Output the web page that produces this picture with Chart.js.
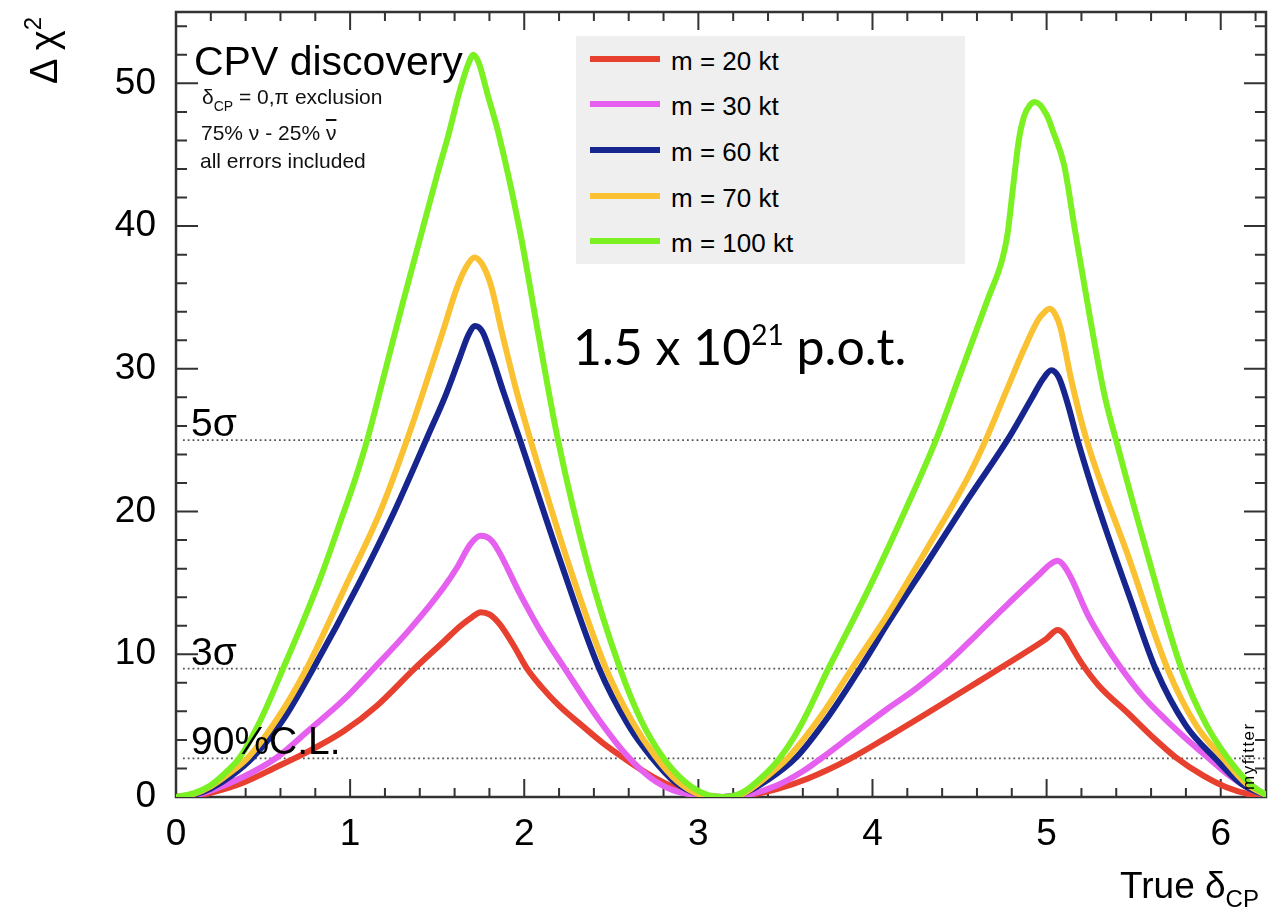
<!DOCTYPE html>
<html>
<head>
<meta charset="utf-8">
<script src="https://cdn.jsdelivr.net/npm/chart.js@4.4.0/dist/chart.umd.min.js"></script>
<style>
html, body { margin: 0; padding: 0; background: #fff; }
#wrap { position: relative; width: 1269px; height: 917px; font-family: "Liberation Sans", Arial, sans-serif; color: #000; }
#c { position: absolute; left: 0; top: 0; }
.t { position: absolute; white-space: nowrap; line-height: 1; }
.rot { transform: rotate(-90deg); transform-origin: left top; }
#legend { position: absolute; left: 576px; top: 36px; width: 389px; height: 228px; background: #efefef; }
</style>
</head>
<body>
<div id="wrap">
  <canvas id="c" width="1269" height="917"></canvas>

  <div class="t" style="left:194px;top:41px;font-size:41px;">CPV discovery</div>
  <div class="t" style="left:202px;top:86px;font-size:21px;color:#111;">&delta;<span style="font-size:14px;position:relative;top:7px;">CP</span> = 0,&pi; exclusion</div>
  <div class="t" style="left:201px;top:122px;font-size:21px;color:#111;">75% &nu; - 25% <span style="text-decoration:overline;">&nu;</span></div>
  <div class="t" style="left:200px;top:150px;font-size:21px;color:#111;">all errors included</div>

  <div id="legend"></div>

  <div class="t" style="left:573px;top:321px;font-size:50px;font-family:Lato,'Open Sans',sans-serif;">1.5 x 10<span style="font-size:28px;position:relative;top:-20px;">21</span> p.o.t.</div>

  <div class="t rot" style="left:25px;top:84px;font-size:38px;">&Delta; &chi;<span style="font-size:24px;position:relative;top:-16px;">2</span></div>
  <div class="t" style="left:1120px;top:867px;font-size:37px;">True &delta;<span style="font-size:24px;position:relative;top:9px;">CP</span></div>
  <div class="t rot" style="left:1240px;top:790px;font-size:17px;letter-spacing:1.5px;">myfitter</div>
</div>

<script>
// axis ticks
const xTicks = [0, 1, 2, 3, 4, 5, 6];
const yTicks = [0, 10, 20, 30, 40, 50];

// legend
const seriesLabels = ['m = 20 kt', 'm = 30 kt', 'm = 60 kt', 'm = 70 kt', 'm = 100 kt'];
const seriesColors = ['#e8402f', '#e660f0', '#16268e', '#fac232', '#7bf022'];

// [true deltaCP, delta chi2]
const m20 = [[0,0],[0.1,0.08],[0.2,0.3],[0.385,1.0],[0.577,2.1],[0.769,3.25],[0.962,4.6],[1.154,6.4],[1.37,9.0],[1.538,10.9],[1.635,12.0],[1.7,12.6],[1.75,12.95],[1.80,12.8],[1.86,12.1],[1.94,10.6],[2.016,9.0],[2.1,7.7],[2.2,6.4],[2.332,5.0],[2.45,3.8],[2.57,2.75],[2.70,1.7],[2.83,0.85],[2.95,0.3],[3.05,0.06],[3.14,0],
  [3.3,0.15],[3.45,0.55],[3.63,1.3],[3.859,2.6],[4.1,4.3],[4.318,5.9],[4.53,7.5],[4.73,9.0],[4.9,10.3],[5.0,11.1],[5.063,11.7],[5.1,11.4],[5.15,10.4],[5.2,9.4],[5.3,7.8],[5.465,5.9],[5.6,4.3],[5.74,2.8],[5.9,1.5],[6.04,0.65],[6.18,0.15],[6.2832,0]];
const m30 = [[0,0],[0.1,0.1],[0.2,0.45],[0.385,1.4],[0.577,2.75],[0.769,4.75],[0.962,6.8],[1.135,9.0],[1.346,11.8],[1.538,14.7],[1.615,16.1],[1.69,17.7],[1.75,18.3],[1.80,18.1],[1.84,17.5],[1.977,14.2],[2.1,11.5],[2.233,9.0],[2.43,5.4],[2.59,2.9],[2.72,1.4],[2.85,0.5],[3.0,0.1],[3.14,0],
  [3.3,0.2],[3.45,0.8],[3.6,1.8],[3.71,2.75],[3.9,4.5],[4.088,6.2],[4.25,7.6],[4.421,9.3],[4.6,11.4],[4.776,13.5],[4.95,15.5],[5.02,16.3],[5.063,16.55],[5.1,16.2],[5.143,15.3],[5.235,12.8],[5.33,10.8],[5.418,9.2],[5.55,7.1],[5.694,5.3],[5.8,4.1],[5.923,2.8],[6.05,1.5],[6.18,0.5],[6.2832,0]];
const m60 = [[0,0],[0.1,0.15],[0.2,0.6],[0.32,1.5],[0.44,2.75],[0.615,5.4],[0.788,9.0],[1.048,14.9],[1.25,19.9],[1.45,25.4],[1.55,28.2],[1.63,30.8],[1.68,32.4],[1.718,33.0],[1.76,32.6],[1.81,31.0],[1.88,28.4],[1.97,25.2],[2.2,16.8],[2.43,9.0],[2.6,5.0],[2.73,2.8],[2.87,1.0],[3.0,0.2],[3.14,0],
  [3.25,0.2],[3.40,1.2],[3.56,2.75],[3.75,5.7],[3.928,9.0],[4.1,12.4],[4.318,16.5],[4.55,20.9],[4.79,25.3],[4.913,27.9],[4.98,29.3],[5.027,29.9],[5.07,29.4],[5.12,27.6],[5.178,25.0],[5.26,21.7],[5.35,18.4],[5.48,13.9],[5.625,9.0],[5.80,5.0],[5.969,2.7],[6.12,0.9],[6.2832,0]];
const m70 = [[0,0],[0.1,0.2],[0.2,0.75],[0.3,1.6],[0.413,2.75],[0.577,5.4],[0.75,9.0],[0.971,14.7],[1.173,20.0],[1.346,25.7],[1.527,32.4],[1.62,35.9],[1.68,37.4],[1.714,37.8],[1.76,37.3],[1.81,35.8],[1.871,32.6],[1.95,28.7],[2.036,25.0],[2.25,16.5],[2.47,9.0],[2.62,5.3],[2.75,2.9],[2.88,1.1],[3.0,0.2],[3.14,0],
  [3.25,0.2],[3.40,1.5],[3.515,2.75],[3.7,5.6],[3.882,9.0],[4.088,12.8],[4.318,17.5],[4.548,22.4],[4.65,25.0],[4.767,28.4],[4.871,31.4],[4.95,33.4],[4.99,34.0],[5.017,34.2],[5.05,33.8],[5.079,32.9],[5.142,29.2],[5.23,25.0],[5.465,17.0],[5.694,9.0],[5.86,5.0],[6.015,2.7],[6.15,0.9],[6.2832,0]];
const m100 = [[0,0],[0.1,0.25],[0.19,0.75],[0.28,1.65],[0.365,2.75],[0.49,5.5],[0.615,9.0],[0.73,12.3],[0.837,15.6],[0.95,19.5],[1.03,22.3],[1.107,25.4],[1.2,29.8],[1.3,34.5],[1.412,39.6],[1.5,43.6],[1.565,46.4],[1.63,49.5],[1.68,51.4],[1.708,52.0],[1.74,51.4],[1.79,49.2],[1.852,46.5],[1.976,39.6],[2.08,32.5],[2.194,25.0],[2.37,16.0],[2.55,9.0],[2.67,5.4],[2.79,2.9],[2.92,1.1],[3.04,0.2],[3.14,0],
  [3.25,0.3],[3.40,1.8],[3.469,2.75],[3.55,4.2],[3.63,6.0],[3.70,7.8],[3.755,9.2],[3.81,10.5],[3.995,15.0],[4.2,20.4],[4.364,25.0],[4.497,29.4],[4.663,34.9],[4.746,37.7],[4.775,39.4],[4.808,42.8],[4.84,46.0],[4.871,47.7],[4.905,48.5],[4.934,48.7],[5.0,47.8],[5.038,46.6],[5.1,44.3],[5.163,39.7],[5.246,33.8],[5.33,28.3],[5.41,24.5],[5.579,17.0],[5.774,9.0],[5.92,5.0],[6.061,2.4],[6.18,0.8],[6.2832,0]];
const seriesData = [m20, m30, m60, m70, m100];
const drawOrder = [4, 3, 2, 1, 0];   // lower = drawn on top

// reference lines
const refLevels = [25, 9, 2.71];
const refLabels = ['5\u03c3', '3\u03c3', '90%C.L.'];

const xMax = 6.26, yMax = 55;

// legend box
const leg = document.getElementById('legend');
seriesLabels.forEach(function (lab, i) {
  const cy = 22.7 + i * 45.6;
  const line = document.createElement('div');
  line.style.cssText = 'position:absolute;left:14px;width:70px;height:6px;top:' + (cy - 3) + 'px;background:' + seriesColors[i];
  leg.appendChild(line);
  const txt = document.createElement('div');
  txt.className = 't';
  txt.style.cssText = 'left:95px;font-size:26px;top:' + (cy - 11) + 'px';
  txt.textContent = lab;
  leg.appendChild(txt);
});

const rootFrame = {
  id: 'rootFrame',
  beforeDatasetsDraw(chart) {
    const ctx = chart.ctx, a = chart.chartArea, x = chart.scales.x, y = chart.scales.y;
    ctx.save();
    ctx.strokeStyle = '#333';
    ctx.lineWidth = 2;
    ctx.beginPath();
    for (let i = 0; i * 0.2 <= xMax; i++) {
      const px = x.getPixelForValue(i * 0.2);
      const len = (i % 5 === 0) ? 18 : 9;
      ctx.moveTo(px, a.bottom); ctx.lineTo(px, a.bottom - len);
      ctx.moveTo(px, a.top); ctx.lineTo(px, a.top + len);
    }
    for (let v = 0; v <= yMax; v += 2) {
      const py = y.getPixelForValue(v);
      const len = (v % 10 === 0) ? 22 : 11;
      ctx.moveTo(a.left, py); ctx.lineTo(a.left + len, py);
      ctx.moveTo(a.right, py); ctx.lineTo(a.right - len, py);
    }
    ctx.stroke();
    ctx.lineWidth = 2.5;
    ctx.strokeRect(a.left, a.top, a.right - a.left, a.bottom - a.top);
    ctx.restore();
  },
  afterDatasetsDraw(chart) {
    const ctx = chart.ctx, a = chart.chartArea, y = chart.scales.y;
    ctx.save();
    ctx.fillStyle = '#000';
    ctx.font = '39px "Liberation Sans", Arial, sans-serif';
    ctx.textBaseline = 'alphabetic';
    refLevels.forEach(function (lv, i) {
      ctx.fillText(refLabels[i], a.left + 15, y.getPixelForValue(lv) - 4);
    });
    ctx.restore();
  }
};

const datasets = seriesData.map(function (arr, i) {
  return {
    label: seriesLabels[i],
    data: arr.map(function (p) { return { x: p[0], y: p[1] }; }),
    borderColor: seriesColors[i],
    borderWidth: 6,
    pointRadius: 0,
    fill: false,
    cubicInterpolationMode: 'monotone',
    order: drawOrder[i]
  };
});
refLevels.forEach(function (lv) {
  datasets.push({
    data: [{ x: 0.04, y: lv }, { x: xMax, y: lv }],
    borderColor: '#555',
    borderWidth: 1.8,
    borderDash: [1.8, 3],
    pointRadius: 0,
    fill: false,
    order: 10
  });
});

function noPad(s) { s.paddingTop = 0; s.paddingBottom = 0; s.paddingLeft = 0; s.paddingRight = 0; }

Chart.defaults.font.family = '"Liberation Sans", Arial, sans-serif';
new Chart(document.getElementById('c'), {
  type: 'line',
  data: { datasets: datasets },
  options: {
    responsive: false,
    animation: false,
    layout: { padding: { left: 0, top: 12, right: 3, bottom: 0 } },
    plugins: { legend: { display: false }, tooltip: { enabled: false } },
    scales: {
      x: {
        type: 'linear', min: 0, max: xMax,
        afterBuildTicks: function (s) { s.ticks = xTicks.map(function (v) { return { value: v }; }); },
        afterFit: function (s) { s.height = 120; noPad(s); },
        grid: { display: false }, border: { display: false },
        ticks: { color: '#000', font: { size: 37 }, padding: 8, maxRotation: 0 }
      },
      y: {
        type: 'linear', min: 0, max: yMax,
        afterBuildTicks: function (s) { s.ticks = yTicks.map(function (v) { return { value: v }; }); },
        afterFit: function (s) { s.width = 176; noPad(s); },
        grid: { display: false }, border: { display: false },
        ticks: { color: '#000', font: { size: 37 }, padding: 12 }
      }
    }
  },
  plugins: [rootFrame]
});
</script>
</body>
</html>
